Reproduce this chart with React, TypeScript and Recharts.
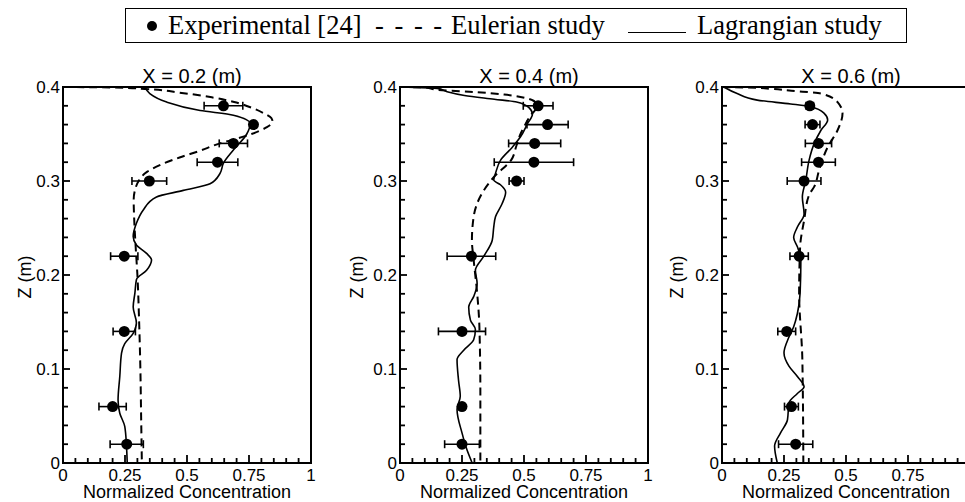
import React from 'react'
import { ScatterChart, Scatter, XAxis, YAxis, ErrorBar, ReferenceArea } from 'recharts'

// experimental heights (m) shared by the three stations
const zLevels = [0.38, 0.36, 0.34, 0.32, 0.3, 0.22, 0.14, 0.06, 0.02]

// experimental concentration and half error bar, per station
const exp02 = [0.647, 0.768, 0.687, 0.623, 0.348, 0.247, 0.247, 0.2, 0.257]
const err02 = [0.078, 0, 0.057, 0.082, 0.07, 0.055, 0.045, 0.055, 0.067]
const exp04 = [0.557, 0.595, 0.543, 0.54, 0.47, 0.288, 0.25, 0.25, 0.25]
const err04 = [0.06, 0.083, 0.105, 0.16, 0.03, 0.098, 0.095, 0.01, 0.07]
const exp06 = [0.354, 0.365, 0.389, 0.389, 0.331, 0.311, 0.261, 0.28, 0.297]
const err06 = [0.015, 0.03, 0.053, 0.068, 0.068, 0.037, 0.036, 0.028, 0.069]

// profiles as [concentration, z], top to bottom
const euler02: [number, number][] = [
  [0, 0.4], [0.2, 0.3995], [0.33, 0.398], [0.47, 0.394], [0.6, 0.389], [0.69, 0.384],
  [0.76, 0.378], [0.81, 0.372], [0.84, 0.367], [0.845, 0.363], [0.82, 0.357], [0.76, 0.35],
  [0.7, 0.345], [0.633, 0.34], [0.55, 0.332], [0.47, 0.325], [0.4, 0.318], [0.34, 0.31],
  [0.305, 0.3], [0.29, 0.29], [0.285, 0.28], [0.287, 0.26], [0.293, 0.23], [0.3, 0.2],
  [0.307, 0.15], [0.312, 0.1], [0.315, 0.05], [0.318, 0],
]
const lagr02: [number, number][] = [
  [0.33, 0.4], [0.35, 0.393], [0.418, 0.384], [0.553, 0.375], [0.687, 0.37], [0.755, 0.361],
  [0.741, 0.35], [0.687, 0.333], [0.647, 0.319], [0.633, 0.308], [0.593, 0.297], [0.485, 0.29],
  [0.377, 0.283], [0.323, 0.269], [0.296, 0.255], [0.283, 0.241], [0.296, 0.232], [0.337, 0.223],
  [0.357, 0.216], [0.337, 0.205], [0.296, 0.195], [0.29, 0.181], [0.283, 0.166], [0.296, 0.149],
  [0.283, 0.138], [0.249, 0.127], [0.236, 0.117], [0.229, 0.092], [0.222, 0.067], [0.229, 0.053],
  [0.249, 0.039], [0.256, 0.018], [0.259, 0],
]
const euler04: [number, number][] = [
  [0, 0.4], [0.1, 0.3995], [0.15, 0.397], [0.28, 0.395], [0.42, 0.392], [0.51, 0.388],
  [0.547, 0.383], [0.55, 0.378], [0.527, 0.37], [0.507, 0.361], [0.486, 0.35], [0.47, 0.338],
  [0.45, 0.323], [0.378, 0.304], [0.331, 0.287], [0.297, 0.262], [0.29, 0.237], [0.297, 0.216],
  [0.311, 0.181], [0.32, 0.146], [0.324, 0.075], [0.324, 0],
]
const lagr04: [number, number][] = [
  [0, 0.4], [0.15, 0.3985], [0.19, 0.395], [0.26, 0.391], [0.38, 0.387], [0.47, 0.384],
  [0.52, 0.378], [0.534, 0.371], [0.514, 0.361], [0.486, 0.347], [0.453, 0.336], [0.405, 0.322],
  [0.385, 0.308], [0.378, 0.301], [0.405, 0.296], [0.426, 0.288], [0.412, 0.276], [0.385, 0.262],
  [0.378, 0.251], [0.372, 0.237], [0.338, 0.22], [0.304, 0.205], [0.311, 0.191], [0.297, 0.177],
  [0.277, 0.166], [0.284, 0.152], [0.304, 0.142], [0.297, 0.131], [0.257, 0.12], [0.23, 0.11],
  [0.236, 0.088], [0.243, 0.071], [0.23, 0.057], [0.25, 0.032], [0.27, 0.014], [0.291, 0],
]
const euler06: [number, number][] = [
  [0, 0.4], [0.1, 0.3995], [0.2, 0.398], [0.28, 0.396], [0.399, 0.393], [0.466, 0.384],
  [0.486, 0.372], [0.466, 0.354], [0.426, 0.336], [0.392, 0.312], [0.372, 0.294], [0.351, 0.285],
  [0.331, 0.258], [0.315, 0.23], [0.311, 0.181], [0.324, 0.11], [0.328, 0],
]
const lagr06: [number, number][] = [
  [0.007, 0.4], [0.061, 0.393], [0.142, 0.386], [0.277, 0.382], [0.358, 0.379], [0.412, 0.372],
  [0.426, 0.365], [0.399, 0.354], [0.372, 0.34], [0.351, 0.322], [0.338, 0.301], [0.324, 0.283],
  [0.331, 0.265], [0.304, 0.251], [0.289, 0.24], [0.304, 0.23], [0.318, 0.216], [0.315, 0.181],
  [0.304, 0.159], [0.289, 0.145], [0.27, 0.134], [0.25, 0.117], [0.27, 0.103], [0.304, 0.092],
  [0.331, 0.081], [0.304, 0.074], [0.27, 0.064], [0.264, 0.046], [0.236, 0.032], [0.212, 0.018],
  [0.223, 0],
]

// every tick mark; labelled ones are multiples of 0.25 (x) and 0.1 (z)
const xTicks = [0, 0.05, 0.1, 0.15, 0.2, 0.25, 0.3, 0.35, 0.4, 0.45, 0.5, 0.55, 0.6, 0.65, 0.7, 0.75, 0.8, 0.85, 0.9, 0.95, 1]
const zTicks = [0, 0.02, 0.04, 0.06, 0.08, 0.1, 0.12, 0.14, 0.16, 0.18, 0.2, 0.22, 0.24, 0.26, 0.28, 0.3, 0.32, 0.34, 0.36, 0.38, 0.4]

const FONT = '"Liberation Sans", Arial, sans-serif'
const SERIF = '"Liberation Serif", "Times New Roman", serif'

const toRows = (pts: [number, number][]) => pts.map(([c, z]) => ({ c, z }))
const expRows = (vals: number[], errs: number[]) =>
  zLevels.map((z, i) => ({ c: vals[i], z, err: errs[i] }))

const isMultiple = (v: number, step: number) => Math.abs(v / step - Math.round(v / step)) < 1e-6

const noDot = () => <g />
const dot = (p: any) => <circle cx={p.cx} cy={p.cy} r={5.5} fill="#000" />

interface PanelProps {
  left: number
  title: string
  exp: { c: number; z: number; err: number }[]
  euler: { c: number; z: number }[]
  lagr: { c: number; z: number }[]
  zLabelGap: number
  hideLastX?: boolean
}

function Panel({ left, title, exp, euler, lagr, zLabelGap, hideLastX }: PanelProps) {
  const titleContent = (props: any) => {
    const { x, y, width } = props.viewBox
    return (
      <text x={x + width / 2 + 5} y={y - 4} textAnchor="middle" fontSize={20} fontFamily={FONT} fill="#000">
        {title}
      </text>
    )
  }
  const zLabel = (props: any) => {
    const { x, y, width, height } = props.viewBox
    const cx = x + width - zLabelGap
    const cy = y + height / 2 + 2
    return (
      <text x={cx} y={cy} transform={`rotate(-90 ${cx} ${cy})`} textAnchor="middle" dominantBaseline="central"
        fontSize={18} fontFamily={FONT} fill="#000">
        Z (m)
      </text>
    )
  }
  const xTick = (props: any) => {
    const { x, y, payload } = props
    const v = payload.value
    const major = isMultiple(v, 0.25)
    return (
      <g>
        <line x1={x} y1={y} x2={x} y2={y - (major ? 8 : 5)} stroke="#000" strokeWidth={1.8} />
        {major && !(hideLastX && v === 1) && (
          <text x={x} y={y + 6} dy="0.71em" textAnchor="middle" fontSize={17} fontFamily={FONT} fill="#000">
            {String(v)}
          </text>
        )}
      </g>
    )
  }
  const zTick = (props: any) => {
    const { x, y, payload } = props
    const v = payload.value
    const major = isMultiple(v, 0.1)
    return (
      <g>
        <line x1={x} y1={y} x2={x + (major ? 7 : 5)} y2={y} stroke="#000" strokeWidth={1.8} />
        {major && (
          <text x={x - 3} y={y} dy="0.36em" textAnchor="end" fontSize={17} fontFamily={FONT} fill="#000">
            {String(v)}
          </text>
        )}
      </g>
    )
  }

  return (
    <div style={{ position: 'absolute', left, top: 60 }}>
      <ScatterChart width={330} height={442} margin={{ top: 27, right: 19, bottom: 0, left: 0 }}>
        <ReferenceArea x1={0} x2={1} y1={0} y2={0.4} fill="#fff" fillOpacity={0} stroke="#000" strokeWidth={2}
          label={{ content: titleContent }} />
        <XAxis dataKey="c" type="number" domain={[0, 1]} ticks={xTicks} interval={0} tickLine={false}
          axisLine={false} tickSize={0} tickMargin={0} height={39} tick={xTick}
          label={{ value: 'Normalized Concentration', position: 'insideBottom', offset: 4, fontSize: 18, fill: '#000', fontFamily: FONT }} />
        <YAxis dataKey="z" type="number" domain={[0, 0.4]} ticks={zTicks} interval={0} tickLine={false}
          axisLine={false} tickSize={0} tickMargin={0} width={63} tick={zTick}
          label={{ content: zLabel }} />
        <Scatter data={euler} fill="#000" shape={noDot} legendType="none" isAnimationActive={false}
          line={{ stroke: '#000', strokeWidth: 2, strokeDasharray: '8 5' }} lineJointType="monotoneY" />
        <Scatter data={lagr} fill="#000" shape={noDot} legendType="none" isAnimationActive={false}
          line={{ stroke: '#000', strokeWidth: 1.6 }} lineJointType="monotoneY" />
        <Scatter data={exp} fill="#000" shape={dot} legendType="none" isAnimationActive={false}>
          <ErrorBar dataKey="err" direction="x" width={4} stroke="#000" strokeWidth={1.6} />
        </Scatter>
      </ScatterChart>
    </div>
  )
}

const legendText = { position: 'absolute' as const, top: 0, lineHeight: '33px', fontFamily: SERIF, fontSize: 26.5, color: '#000', whiteSpace: 'nowrap' as const }

export default function App() {
  return (
    <div style={{ position: 'relative', width: 965, height: 502, overflow: 'hidden', background: '#fff' }}>
      <style>{'body{margin:0}'}</style>
      <div style={{
        position: 'absolute', left: 125, top: 8, width: 782, height: 35, boxSizing: 'border-box',
        border: '1.5px solid #000',
      }}>
        <span style={{ position: 'absolute', left: 21, top: 12, width: 10, height: 10, borderRadius: 5, background: '#000' }} />
        <span style={{ ...legendText, left: 42 }}>Experimental [24]</span>
        <span style={{ ...legendText, left: 249, letterSpacing: 2 }}>- - - -</span>
        <span style={{ ...legendText, left: 325 }}>Eulerian study</span>
        <span style={{ position: 'absolute', left: 502, top: 23, width: 58, borderTop: '1.5px solid #000' }} />
        <span style={{ ...legendText, left: 571 }}>Lagrangian study</span>
      </div>
      <Panel left={0} title="X = 0.2 (m)" exp={expRows(exp02, err02)} euler={toRows(euler02)} lagr={toRows(lagr02)} zLabelGap={38} />
      <Panel left={337} title="X = 0.4 (m)" exp={expRows(exp04, err04)} euler={toRows(euler04)} lagr={toRows(lagr04)} zLabelGap={43} />
      <Panel left={659} title="X = 0.6 (m)" exp={expRows(exp06, err06)} euler={toRows(euler06)} lagr={toRows(lagr06)} zLabelGap={45} hideLastX />
    </div>
  )
}
